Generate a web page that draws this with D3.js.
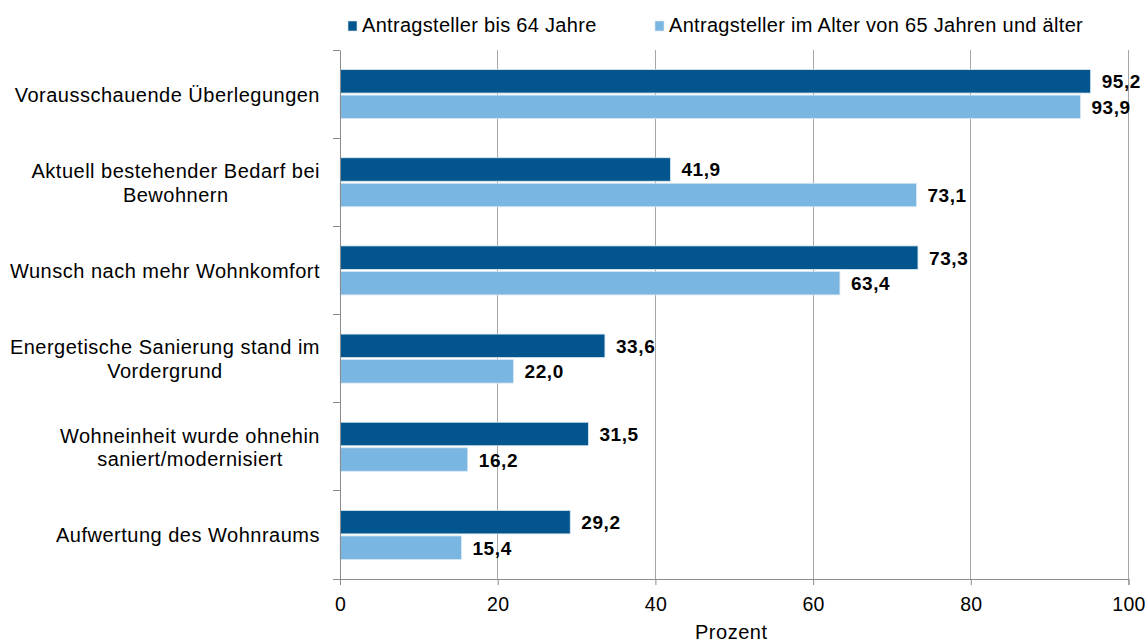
<!DOCTYPE html>
<html>
<head>
<meta charset="utf-8">
<script src="https://cdn.jsdelivr.net/npm/d3@7"></script>
<style>
  html, body { margin: 0; padding: 0; background: #fff; }
  svg { display: block; font-family: "Liberation Sans", Arial, sans-serif; }
</style>
</head>
<body>
<svg id="chart" width="1148" height="642"></svg>
<script>
const categories = [
  "Vorausschauende Überlegungen",
  "Aktuell bestehender Bedarf bei\nBewohnern",
  "Wunsch nach mehr Wohnkomfort",
  "Energetische Sanierung stand im\nVordergrund",
  "Wohneinheit wurde ohnehin\nsaniert/modernisiert",
  "Aufwertung des Wohnraums"
];
const seriesNames = ["Antragsteller bis 64 Jahre", "Antragsteller im Alter von 65 Jahren und älter"];
const seriesUnder65 = [95.2, 41.9, 73.3, 33.6, 31.5, 29.2];
const series65plus = [93.9, 73.1, 63.4, 22.0, 16.2, 15.4];
const xTicks = [0, 20, 40, 60, 80, 100];
const xAxisTitle = "Prozent";

const colors = ["#02568d", "#79b7e2"];
const gridColor = "#a6a6a6";
const axisColor = "#8c8c8c";

const svg = d3.select("#chart");
const mLeft = 340, mRight = 1128.5, mTop = 50, mBottom = 579;

const x = d3.scaleLinear().domain([0, 100]).range([mLeft, mRight]);
const y0 = d3.scaleBand().domain(categories).range([mTop, mBottom]).paddingInner(0).paddingOuter(0);
const bw = y0.bandwidth();
const y1 = d3.scaleBand().domain([0, 1]).range([bw / 2 - 24.5, bw / 2 + 24.5]).paddingInner(0.08);

const fmt = v => d3.format(".1f")(v).replace(".", ",");

// gridlines
svg.append("g").selectAll("line")
  .data(xTicks.filter(t => t > 0))
  .join("line")
  .attr("x1", d => x(d)).attr("x2", d => x(d))
  .attr("y1", mTop).attr("y2", mBottom)
  .attr("stroke", gridColor).attr("stroke-width", 1)
  .attr("shape-rendering", "crispEdges");

// bars
const data = categories.map((c, i) => ({ c, vals: [seriesUnder65[i], series65plus[i]] }));
const groups = svg.append("g").selectAll("g")
  .data(data).join("g")
  .attr("transform", d => `translate(0,${y0(d.c)})`);

groups.selectAll("rect")
  .data(d => d.vals.map((v, s) => ({ v, s })))
  .join("rect")
  .attr("x", x(0))
  .attr("y", d => y1(d.s))
  .attr("width", d => x(d.v) - x(0))
  .attr("height", y1.bandwidth())
  .attr("fill", d => colors[d.s])
  .attr("stroke", "#dbe7f1").attr("stroke-width", 0.8);

groups.selectAll("text.val")
  .data(d => d.vals.map((v, s) => ({ v, s })))
  .join("text")
  .attr("class", "val")
  .attr("x", d => x(d.v) + 11)
  .attr("y", d => y1(d.s) + y1.bandwidth() / 2 + 7)
  .attr("font-size", "19px").attr("font-weight", "bold")
  .attr("letter-spacing", "0.6px")
  .attr("fill", "#000")
  .text(d => fmt(d.v));

// axes
const xAxis = d3.axisBottom(x).tickValues(xTicks).tickSize(6).tickPadding(12).tickFormat(d => d);
const gx = svg.append("g").attr("transform", `translate(0,${mBottom})`).call(xAxis);
gx.select(".domain").attr("stroke", axisColor);
gx.selectAll(".tick line").attr("stroke", axisColor);
gx.selectAll(".tick text")
  .attr("font-size", "19.5px").attr("fill", "#000")
  .attr("font-family", "Liberation Sans, Arial, sans-serif")
  .attr("letter-spacing", "0.3px");

const yAxis = d3.axisLeft(y0).tickSize(0).tickFormat("");
const gy = svg.append("g").attr("transform", `translate(${mLeft},0)`).call(yAxis);
gy.select(".domain").attr("stroke", axisColor);
// band boundary ticks
const boundaries = categories.map(c => y0(c)).concat([mBottom]);
svg.append("g").selectAll("line")
  .data(boundaries).join("line")
  .attr("x1", mLeft - 7).attr("x2", mLeft)
  .attr("y1", d => d).attr("y2", d => d)
  .attr("stroke", axisColor).attr("shape-rendering", "crispEdges");

// category labels
const labelRight = 320;
const lineH = 23.5;
categories.forEach(c => {
  const lines = c.split("\n");
  const t = svg.append("text")
    .attr("font-size", "20px").attr("fill", "#000")
    .attr("letter-spacing", "0.5px");
  const cy = y0(c) + bw / 2;
  const spans = lines.map((ln, i) => t.append("tspan")
    .attr("y", cy + 7.5 + (i - (lines.length - 1) / 2) * lineH)
    .text(ln));
  const widths = spans.map(s => s.node().getComputedTextLength());
  const maxW = d3.max(widths);
  const center = labelRight - maxW / 2;
  spans.forEach(s => s.attr("x", center).attr("text-anchor", "middle"));
});

// x axis title
svg.append("text")
  .attr("x", (mLeft + mRight) / 2 - 3).attr("y", 639)
  .attr("text-anchor", "middle")
  .attr("font-size", "20px").attr("letter-spacing", "0.5px")
  .text(xAxisTitle);

// legend
const legendX = [348, 655];
const legend = svg.append("g").selectAll("g")
  .data(seriesNames).join("g")
  .attr("transform", (d, i) => `translate(${legendX[i]},0)`);
legend.append("rect")
  .attr("x", 0).attr("y", 21).attr("width", 9).attr("height", 10)
  .attr("fill", (d, i) => colors[i])
  .attr("stroke", "#dbe7f1").attr("stroke-width", 0.6);
legend.append("text")
  .attr("x", 14).attr("y", 32)
  .attr("font-size", "20px").attr("letter-spacing", "0.3px")
  .text(d => d);
</script>
</body>
</html>
